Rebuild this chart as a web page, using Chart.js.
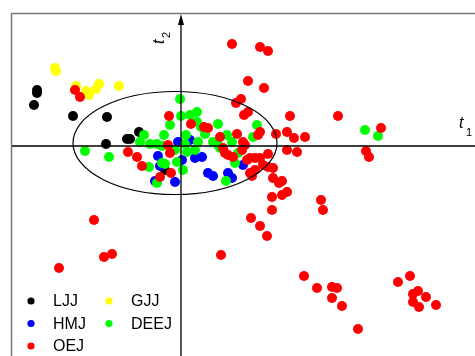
<!DOCTYPE html>
<html>
<head>
<meta charset="utf-8">
<script src="https://cdn.jsdelivr.net/npm/chart.js@4/dist/chart.umd.min.js"></script>
<style>
  html, body { margin: 0; padding: 0; background: #fff; }
  canvas { display: block; }
</style>
</head>
<body>
<canvas id="scoreChart" width="475" height="356"></canvas>
<script>
// score plot t1 / t2, one array of [t1, t2] pairs per group
const groupNames = ["LJJ", "GJJ", "HMJ", "DEEJ", "OEJ"];
const groupColors = ["#000000", "#ffff00", "#0000ff", "#00ff00", "#ff0000"];

const ljj = [[-14.4,5.6],[-14.4,5.3],[-14.7,4.1],[-10.8,3.0],[-7.4,2.9],[-7.5,0.2],
  [-5.4,0.7],[-5.1,0.7],[-4.2,1.4],[-1.6,-2.4]];

const gjj = [[-12.6,7.8],[-12.5,7.5],[-10.5,6.0],[-9.5,5.5],[-9.2,5.1],[-8.5,5.7],
  [-8.2,6.2],[-6.2,6.0]];

const hmj = [[-0.3,0.4],[0.9,0.6],[-2.3,-1.0],[-2.1,-2.0],[-2.6,-3.5],[-0.6,-3.6],
  [0.1,-1.4],[1.4,-1.2],[2.1,-1.1],[2.7,-2.7],[3.2,-3.0],[4.7,-2.7],[5.1,-3.2],[6.2,-1.9]];

const deej = [[-0.1,4.7],[0.0,3.0],[0.9,3.1],[1.6,3.4],[-1.1,2.1],[0.5,1.1],[2.0,1.9],
  [-1.7,1.1],[-3.7,1.1],[-4.1,0.4],[-3.1,0.2],[-2.4,0.2],[-1.9,0.0],[0.4,0.2],[1.7,0.4],
  [-7.2,-1.1],[-9.6,-0.5],[-3.2,-2.1],[-1.9,-1.7],[-1.6,-1.8],[-2.4,-3.7],[-0.4,-1.6],
  [-0.6,-0.4],[0.6,-0.6],[1.4,-0.4],[0.2,-2.4],[1.6,2.4],[3.7,0.1],[3.7,2.2],[2.4,1.2],
  [4.6,1.1],[3.2,0.4],[5.1,0.4],[3.9,-0.2],[5.7,-0.7],[5.4,-1.7],[4.5,-3.5],[7.2,0.9],
  [7.6,2.1],[18.4,1.6],[19.7,1.0]];

const oej = [[5.1,10.2],[7.9,9.9],[8.7,9.5],[6.7,6.5],[8.3,5.8],[6.0,4.7],[5.5,4.3],
  [6.7,3.4],[6.3,3.1],[10.9,3.0],[15.7,3.0],[20.0,1.8],[9.5,1.2],[10.6,1.4],[11.3,0.8],
  [12.4,0.9],[18.5,-0.5],[18.8,-1.1],[10.6,-0.4],[11.6,-0.6],[-10.6,5.6],[-10.1,4.9],
  [-8.7,-7.4],[-7.7,-11.1],[-6.9,-10.8],[-12.2,-12.2],[4.0,-10.9],[7.1,-3.0],[9.2,-3.2],
  [9.8,-3.7],[10.1,-3.5],[10.6,-4.6],[10.1,-4.9],[9.1,-5.1],[9.1,-6.4],[7.0,-7.2],
  [7.9,-8.0],[8.6,-9.0],[14.0,-5.4],[14.2,-6.4],[12.3,-13.0],[13.6,-14.2],[15.1,-14.1],
  [15.6,-14.2],[15.1,-15.2],[16.1,-16.0],[17.7,-18.3],[21.7,-13.6],[22.9,-13.0],
  [23.7,-14.5],[23.2,-14.8],[23.2,-15.6],[24.5,-15.1],[23.8,-16.1],[25.5,-15.9],
  [-1.2,3.0],[1.0,2.2],[2.3,1.9],[2.7,1.8],[-1.3,0.1],[3.9,0.9],[5.6,1.2],[6.2,0.4],
  [7.9,1.4],[7.7,1.1],[4.2,-0.2],[4.4,-0.7],[4.7,-0.9],[5.2,-1.1],[6.6,-1.4],[6.9,-1.2],
  [7.4,-1.2],[7.9,-1.2],[8.7,-0.8],[8.2,-1.9],[8.7,-2.1],[9.2,-2.2],[6.9,-2.7],[7.4,-2.4],
  [6.1,-0.4],[6.4,0.1],[-5.3,-0.6],[-4.4,-1.1],[-3.9,-2.0],[-1.1,-0.7],[-1.0,-2.7],
  [-2.1,-3.1]];

const groupPoints = [ljj, gjj, hmj, deej, oej];
// drawing order: lower value is painted on top
const groupOrder = [3, 4, 2, 1, 0];

// confidence ellipse: centre and semi-axes in score units
const ellipseCentre = [-0.6, 0.3];
const ellipseRadii = [10.2, 5.15];

const xRange = [-18.1, 29.4];
const yRange = [-21.0, 14.6];

const decor = {
  id: "decor",
  afterDatasetsDraw(chart) {
    const { ctx, scales: { x, y } } = chart;
    const x0 = x.getPixelForValue(0);
    const y0 = y.getPixelForValue(0);
    ctx.save();

    // frame
    ctx.strokeStyle = "#777";
    ctx.lineWidth = 1.5;
    ctx.strokeRect(11.5, 13.5, 500, 400);

    // axes
    ctx.strokeStyle = "#000";
    ctx.lineWidth = 1.3;
    ctx.beginPath();
    ctx.moveTo(12, y0);
    ctx.lineTo(chart.width, y0);
    ctx.moveTo(x0, 22);
    ctx.lineTo(x0, chart.height);
    ctx.stroke();
    ctx.fillStyle = "#000";
    ctx.beginPath();
    ctx.moveTo(x0, 14);
    ctx.lineTo(x0 - 3, 25);
    ctx.lineTo(x0 + 3, 25);
    ctx.closePath();
    ctx.fill();

    // ellipse
    const cx = x.getPixelForValue(ellipseCentre[0]);
    const cy = y.getPixelForValue(ellipseCentre[1]);
    const rx = x.getPixelForValue(ellipseCentre[0] + ellipseRadii[0]) - cx;
    const ry = cy - y.getPixelForValue(ellipseCentre[1] + ellipseRadii[1]);
    ctx.lineWidth = 1.2;
    ctx.beginPath();
    ctx.ellipse(cx, cy, rx, ry, 0, 0, Math.PI * 2);
    ctx.stroke();

    // axis names
    ctx.fillStyle = "#000";
    ctx.textBaseline = "alphabetic";
    ctx.textAlign = "left";
    ctx.font = "italic 16px 'Liberation Sans', Arial, sans-serif";
    ctx.fillText("t", chart.width - 16, y0 - 18);
    ctx.font = "11px 'Liberation Sans', Arial, sans-serif";
    ctx.fillText("1", chart.width - 9, y0 - 10);

    ctx.save();
    ctx.translate(x0 - 17, 44);
    ctx.rotate(-Math.PI / 2);
    ctx.font = "italic 16px 'Liberation Sans', Arial, sans-serif";
    ctx.fillText("t", 0, 0);
    ctx.font = "11px 'Liberation Sans', Arial, sans-serif";
    ctx.fillText("2", 6, 6);
    ctx.restore();

    // legend, two columns
    ctx.font = "16px 'Liberation Sans', Arial, sans-serif";
    ctx.textBaseline = "middle";
    chart.data.datasets.forEach((ds, i) => {
      const col = i % 2, row = Math.floor(i / 2);
      const mx = 31 + col * 78, my = 301 + row * 22.5;
      ctx.fillStyle = ds.backgroundColor;
      ctx.beginPath();
      ctx.arc(mx, my, 3.6, 0, Math.PI * 2);
      ctx.fill();
      ctx.fillStyle = "#000";
      ctx.fillText(ds.label, mx + 22, my + 1);
    });

    ctx.restore();
  }
};

new Chart(document.getElementById("scoreChart"), {
  type: "scatter",
  data: {
    datasets: groupNames.map((name, i) => ({
      label: name,
      data: groupPoints[i].map(p => ({ x: p[0], y: p[1] })),
      backgroundColor: groupColors[i],
      borderWidth: 0,
      pointRadius: 5,
      order: groupOrder[i]
    }))
  },
  options: {
    responsive: false,
    animation: false,
    layout: { padding: 0, autoPadding: false },
    plugins: { legend: { display: false }, tooltip: { enabled: false } },
    scales: {
      x: { type: "linear", display: false, min: xRange[0], max: xRange[1] },
      y: { type: "linear", display: false, min: yRange[0], max: yRange[1] }
    }
  },
  plugins: [decor]
});
</script>
</body>
</html>
